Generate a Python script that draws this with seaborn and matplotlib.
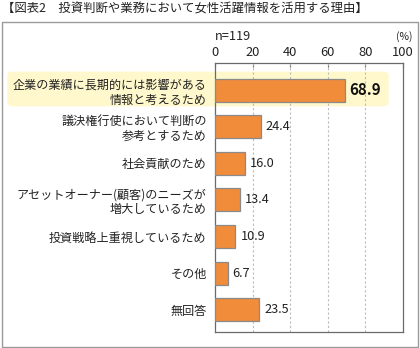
import matplotlib
matplotlib.use("Agg")
import matplotlib.pyplot as plt
import seaborn as sns
import pandas as pd
from matplotlib.patches import FancyBboxPatch, Rectangle

sns.set_theme(style="white")
plt.rcParams["font.family"] = ["Noto Sans CJK JP", "DejaVu Sans"]

title = "【図表2　投資判断や業務において女性活躍情報を活用する理由】"
categories = [
    "企業の業績に長期的には影響がある\n情報と考えるため",
    "議決権行使において判断の\n参考とするため",
    "社会貢献のため",
    "アセットオーナー(顧客)のニーズが\n増大しているため",
    "投資戦略上重視しているため",
    "その他",
    "無回答",
]
values = [68.9, 24.4, 16.0, 13.4, 10.9, 6.7, 23.5]
x_ticks = [0, 20, 40, 60, 80, 100]
n_label = "n=119"
unit_label = "(%)"

df = pd.DataFrame({"reason": categories, "pct": values})

W, H = 420, 348
fig = plt.figure(figsize=(W / 100, H / 100), dpi=100)

# outer frame
fig.patches.append(Rectangle((2 / W, 1 - 347 / H), 416 / W, 325 / H,
                             transform=fig.transFigure, fill=False,
                             edgecolor="#9a9a9a", linewidth=1.0, zorder=-1))
# highlight behind the top item
fig.patches.append(FancyBboxPatch((9 / W, 1 - 105 / H), 378 / W, 32 / H,
                                  boxstyle="round,pad=0.004,rounding_size=0.012",
                                  transform=fig.transFigure,
                                  facecolor="#fff8cc", edgecolor="none", zorder=-1))

fig.text(2 / W, 1 - 9 / H, title, fontsize=8.9, ha="left", va="center",
         color="#222222")

ax = fig.add_axes([215 / W, 1 - 332 / H, 188 / W, 269 / H])
ax.set_facecolor("none")

sns.barplot(data=df, x="pct", y="reason", orient="h", ax=ax,
            color="#f08c3a", width=0.63, edgecolor="#8a8a8a", linewidth=0.9,
            saturation=1, zorder=3)

ax.set_xlim(0, 100)
ax.set_ylim(6.61, -0.74)
ax.set_xlabel("")
ax.set_ylabel("")
ax.xaxis.tick_top()
ax.set_xticks(x_ticks)
ax.set_xticklabels([str(t) for t in x_ticks])
ax.tick_params(axis="x", direction="in", length=3, width=0.8, color="#666666",
               labelsize=9.3, pad=3, labelcolor="#222222")
ax.tick_params(axis="y", length=0, pad=6, labelsize=8.7, labelcolor="#222222")
for lab in ax.get_yticklabels():
    lab.set_linespacing(1.2)
    lab.set_multialignment("right")

for t in x_ticks[1:-1]:
    ax.axvline(t, color="#bbbbbb", linestyle=(0, (2, 2)), linewidth=0.8, zorder=1)

for s in ax.spines.values():
    s.set_visible(True)
    s.set_color("#6a6a6a")
    s.set_linewidth(0.9)

for i, v in enumerate(values):
    if i == 0:
        ax.text(v + 2.6, i, f"{v:.1f}", va="center", ha="left", fontsize=10.8,
                fontweight="bold", color="#111111")
    else:
        ax.text(v + 2.6, i, f"{v:.1f}", va="center", ha="left", fontsize=9.2,
                color="#222222")

fig.text(233 / W, 1 - 37 / H, n_label, fontsize=9.2, ha="center", va="center",
         color="#222222")
fig.text(404 / W, 1 - 37 / H, unit_label, fontsize=7.5, ha="center", va="center",
         color="#222222")

fig.savefig("out.png", dpi=100)
